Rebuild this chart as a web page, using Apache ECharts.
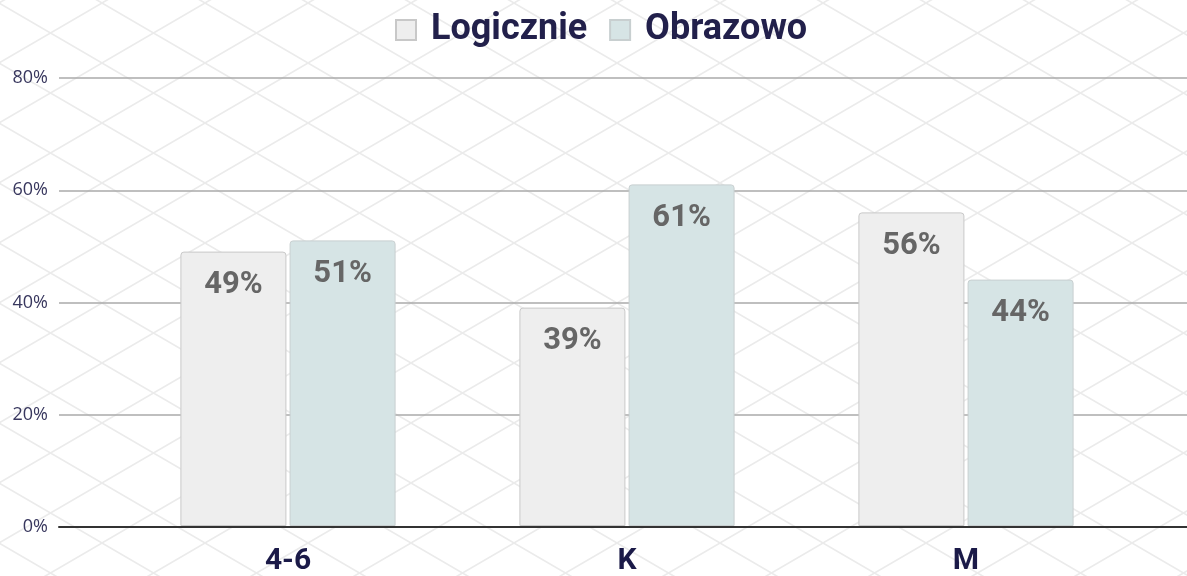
<!DOCTYPE html>
<html>
<head>
<meta charset="utf-8">
<script src="https://cdn.jsdelivr.net/npm/echarts@6/dist/echarts.min.js"></script>
<style>
  html, body { margin: 0; padding: 0; background: #fff; }
  #chart {
    width: 1187px;
    height: 576px;
    background-color: #fff;
    background-image: url("data:image/svg+xml,%3Csvg xmlns='http://www.w3.org/2000/svg' width='103' height='60'%3E%3Cpath d='M0 0L103 60M103 0L0 60' stroke='%23ebebeb' stroke-width='1.6' fill='none'/%3E%3C/svg%3E");
    background-position: -1.5px 3px;
  }
</style>
</head>
<body>
<div id="chart"></div>
<script>
const categories = ['4-6', 'K', 'M']
const logicznie = [49, 39, 56]
const obrazowo = [51, 61, 44]
const yTicks = { min: 0, max: 80, interval: 20 }

const narrow = '"Liberation Sans Narrow", "Arial Narrow", "Roboto", sans-serif'

const chart = echarts.init(document.getElementById('chart'), null, { renderer: 'canvas' })

const barLabel = {
  show: true,
  position: 'insideTop',
  distance: 18,
  formatter: '{c}%',
  fontFamily: narrow,
  fontWeight: 'bold',
  fontSize: 31,
  color: '#666666'
}

chart.setOption({
  backgroundColor: 'transparent',
  animation: false,
  legend: {
    top: 7,
    left: 390,
    itemWidth: 20,
    itemHeight: 20,
    itemGap: 22,
    icon: 'rect',
    textStyle: {
      fontFamily: narrow,
      fontWeight: 'bold',
      fontSize: 36,
      color: '#22204b',
      padding: [0, 0, 0, 10]
    },
    data: ['Logicznie', 'Obrazowo']
  },
  grid: [
    // full width grid: y axis labels, gridlines, zero line
    { left: 59, right: 0, top: 78, bottom: 49 },
    // bars
    { left: 118.5, right: 51.5, top: 78, bottom: 49 }
  ],
  xAxis: [
    {
      gridIndex: 0,
      type: 'category',
      data: categories,
      axisLine: { show: true, lineStyle: { color: '#333333', width: 2 } },
      axisTick: { show: false },
      axisLabel: { show: false }
    },
    {
      gridIndex: 1,
      type: 'category',
      data: categories,
      axisLine: { show: false },
      axisTick: { show: false },
      axisLabel: {
        margin: 20,
        fontFamily: narrow,
        fontWeight: 'bold',
        fontSize: 30,
        color: '#1b1a48'
      }
    }
  ],
  yAxis: [
    {
      gridIndex: 0,
      type: 'value',
      min: yTicks.min,
      max: yTicks.max,
      interval: yTicks.interval,
      axisLabel: {
        formatter: '{value}%',
        margin: 11,
        fontFamily: '"Open Sans", sans-serif',
        fontSize: 18,
        color: '#38375e'
      },
      splitLine: { lineStyle: { color: '#aaaaaa', width: 1.5 } }
    },
    {
      gridIndex: 1,
      type: 'value',
      min: yTicks.min,
      max: yTicks.max,
      interval: yTicks.interval,
      axisLabel: { show: false },
      splitLine: { show: false }
    }
  ],
  series: [
    {
      name: 'Logicznie',
      type: 'bar',
      xAxisIndex: 1,
      yAxisIndex: 1,
      barWidth: 106,
      barGap: '3%',
      itemStyle: {
        color: '#eeeeee',
        borderColor: '#c8c8c8',
        borderWidth: 1,
        borderRadius: [3, 3, 0, 0]
      },
      label: barLabel,
      data: logicznie
    },
    {
      name: 'Obrazowo',
      type: 'bar',
      xAxisIndex: 1,
      yAxisIndex: 1,
      barWidth: 106,
      barGap: '3%',
      itemStyle: {
        color: '#d6e4e5',
        borderColor: '#c8cfd0',
        borderWidth: 1,
        borderRadius: [3, 3, 0, 0]
      },
      label: barLabel,
      data: obrazowo
    }
  ]
})
</script>
</body>
</html>
